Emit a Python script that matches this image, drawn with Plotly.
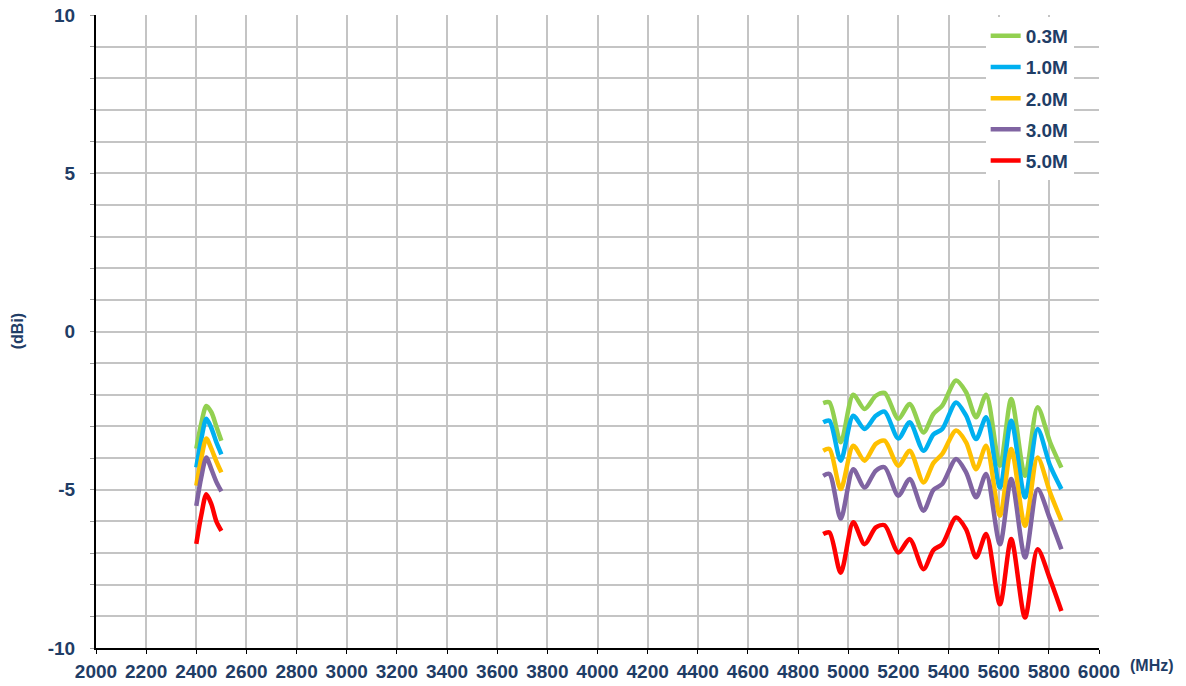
import plotly.graph_objects as go

# ---- data ----
freq_24 = [2400, 2420, 2440, 2460, 2480, 2500]
freq_5 = [4900, 4925, 4970, 5020, 5065, 5110, 5145, 5200, 5245, 5300, 5340,
          5375, 5430, 5470, 5510, 5550, 5605, 5650, 5705, 5755, 5805, 5850]

g03_24 = [-3.7, -2.9, -2.35, -2.55, -3.0, -3.45]
g10_24 = [-4.29, -3.4, -2.76, -3.05, -3.5, -3.88]
g20_24 = [-4.87, -4.0, -3.38, -3.7, -4.1, -4.45]
g30_24 = [-5.51, -4.6, -3.98, -4.35, -4.75, -5.05]
g50_24 = [-6.71, -5.8, -5.14, -5.45, -6.0, -6.3]

g03_5 = [-2.26, -2.24, -3.5, -2.0, -2.45, -2.03, -1.94, -2.76, -2.29, -3.19, -2.6,
         -2.34, -1.55, -1.92, -2.71, -2.0, -4.24, -2.13, -4.56, -2.39, -3.5, -4.3]
g10_5 = [-2.87, -2.82, -4.08, -2.66, -3.08, -2.66, -2.53, -3.38, -2.87, -3.77, -3.25,
         -3.08, -2.24, -2.66, -3.40, -2.71, -4.93, -2.82, -5.24, -3.08, -4.24, -4.98]
g20_5 = [-3.77, -3.71, -4.98, -3.61, -4.08, -3.55, -3.45, -4.24, -3.77, -4.77, -4.15,
         -3.87, -3.13, -3.50, -4.35, -3.61, -5.82, -3.71, -6.14, -3.98, -5.09, -5.98]
g30_5 = [-4.56, -4.50, -5.91, -4.35, -4.93, -4.40, -4.29, -5.19, -4.66, -5.66, -5.0,
         -4.82, -4.03, -4.45, -5.24, -4.50, -6.72, -4.66, -7.14, -4.98, -5.93, -6.88]
g50_5 = [-6.40, -6.35, -7.62, -6.03, -6.72, -6.19, -6.12, -6.98, -6.56, -7.51, -6.9,
         -6.72, -5.88, -6.25, -7.14, -6.40, -8.62, -6.56, -9.04, -6.88, -7.83, -8.83]

series_names = ["0.3M", "1.0M", "2.0M", "3.0M", "5.0M"]
series_24 = [g03_24, g10_24, g20_24, g30_24, g50_24]
series_5 = [g03_5, g10_5, g20_5, g30_5, g50_5]
colors = ["#92d050", "#00b0f0", "#ffc000", "#8064a2", "#ff0000"]

x_ticks = list(range(2000, 6001, 200))
y_ticks = list(range(-10, 11))
y_ticktext = [str(v) if v % 5 == 0 else "" for v in y_ticks]

NAVY = "#1f3d66"
FONT = "Liberation Sans, Arial, sans-serif"

fig = go.Figure()
for name, s24, s5, c in zip(series_names, series_24, series_5, colors):
    fig.add_trace(go.Scatter(
        x=freq_24 + [None] + freq_5,
        y=s24 + [None] + s5,
        mode="lines", name=name, legendgroup=name,
        line=dict(color=c, width=4.5, shape="spline", smoothing=0.8),
        connectgaps=False,
    ))

fig.update_layout(
    width=1186, height=686,
    margin=dict(l=96, r=87, t=15, b=38, autoexpand=False),
    paper_bgcolor="white", plot_bgcolor="white",
    font=dict(family=FONT, color=NAVY, size=19, weight="bold"),
    legend=dict(x=0.887, y=0.997, xanchor="left", yanchor="top",
                bgcolor="white", tracegroupgap=3.5,
                font=dict(family=FONT, size=19, color=NAVY, weight="bold")),
    showlegend=True,
)
fig.update_xaxes(
    range=[2000, 6000], tickvals=x_ticks, ticktext=[str(v) for v in x_ticks],
    showgrid=True, gridcolor="#c4c4c4", gridwidth=1.5,
    showline=True, linecolor="black", linewidth=2,
    ticks="outside", ticklen=4, tickcolor="black", ticklabelstandoff=1,
    zeroline=False, automargin=False, ticklabeloverflow="allow",
    tickfont=dict(family=FONT, size=19, color=NAVY, weight="bold"),
)
fig.update_yaxes(
    range=[-10, 10], tickvals=y_ticks, ticktext=y_ticktext,
    showgrid=True, gridcolor="#c4c4c4", gridwidth=1.5,
    showline=True, linecolor="black", linewidth=2,
    ticks="outside", ticklen=4, tickcolor="#999999", ticklabelstandoff=11,
    zeroline=False, automargin=False, ticklabeloverflow="allow",
    tickfont=dict(family=FONT, size=19, color=NAVY, weight="bold"),
)
fig.add_annotation(text="(dBi)", xref="paper", yref="paper", x=-0.078, y=0.5,
                   xanchor="center", yanchor="middle",
                   textangle=-90, showarrow=False,
                   font=dict(family=FONT, size=16, color=NAVY, weight="bold"))
fig.add_annotation(text="(MHz)", xref="paper", yref="paper", x=1.053, y=-0.027,
                   xanchor="center", yanchor="middle",
                   showarrow=False,
                   font=dict(family=FONT, size=16, color=NAVY, weight="bold"))

# remove the browser's default 8px page margin so the figure fills the window
fig.write_html("out.html",
               config={"displayModeBar": False},
               post_script="document.body.style.margin='0';document.body.style.overflow='hidden';")
